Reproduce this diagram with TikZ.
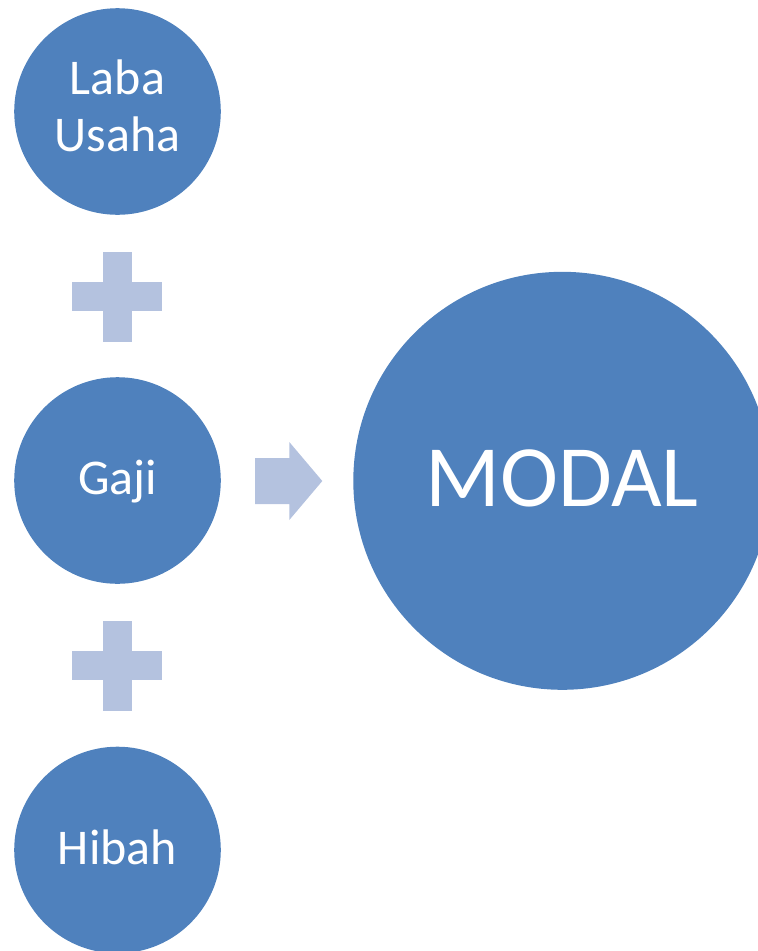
\documentclass[tikz,border=0pt]{standalone}
\usepackage{fontspec}
\setmainfont{Carlito}
\usepackage{xcolor}
\usetikzlibrary{arrows.meta, positioning, shapes}
\definecolor{circblue}{HTML}{4F81BD}
\definecolor{paleblue}{HTML}{B4C2DF}

\tikzset{
    bubble/.style={circle, fill=circblue, text=white, inner sep=0pt, minimum size=206.6pt,
        align=center, font=\fontsize{50}{57.7}\selectfont, text height=30pt, text depth=2pt},
    bigbubble/.style={bubble, minimum size=418pt, font=\fontsize{87.5}{90}\selectfont,
        text height=55.3pt, text depth=4.9pt}
}

\begin{document}
\begin{tikzpicture}[x=1pt, y=-1pt]
    \useasboundingbox (0,0) rectangle (758,951);
    % source circles
    \node[bubble, text height=87.7pt, text depth=7.3pt] (laba) at (117.5,111.5) {Laba\\Usaha};
    \node[bubble] (gaji) at (117.5,480.5) {Gaji};
    \node[bubble] (hibah) at (117.5,850) {Hibah};
    % result
    \node[bigbubble] (modal) at (562.3,480.8) {MODAL};
    % plus signs
    \foreach \y in {296.5, 665.5} {
        \fill[paleblue] (117.3,\y) +(-45,-14.5) rectangle +(45,14.5);
        \fill[paleblue] (117.3,\y) +(-14.5,-45) rectangle +(14.5,45);
    }
    % arrow
    \fill[paleblue] (255,458) -- (289.3,458) -- (289.3,442) -- (322.3,481)
        -- (289.3,520) -- (289.3,504) -- (255,504) -- cycle;
\end{tikzpicture}
\end{document}
